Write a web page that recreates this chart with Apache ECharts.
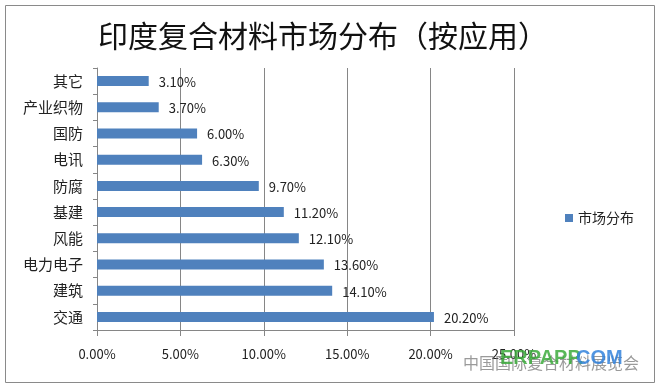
<!DOCTYPE html>
<html>
<head>
<meta charset="utf-8">
<script src="https://cdn.jsdelivr.net/npm/echarts@6/dist/echarts.min.js"></script>
<style>
html,body{margin:0;padding:0;background:#fff;}
#c{width:657px;height:384px;}
</style>
</head>
<body>
<div id="c"></div>
<script>
const titleText = '印度复合材料市场分布（按应用）';
const seriesName = '市场分布';
const categories = ['其它','产业织物','国防','电讯','防腐','基建','风能','电力电子','建筑','交通'];
const values = [3.1, 3.7, 6.0, 6.3, 9.7, 11.2, 12.1, 13.6, 14.1, 20.2];
const axisMin = 0, axisMax = 25, axisStep = 5;
const watermarkCn = '中国国际复合材料展览会';
const watermarkA = 'ERPAPP.';
const watermarkB = 'COM';

const FONT = '"Noto Sans CJK SC", "Noto Sans", sans-serif';
const chart = echarts.init(document.getElementById('c'), null, {renderer: 'canvas'});
chart.setOption({
  backgroundColor: '#ffffff',
  animation: false,
  textStyle: {fontFamily: FONT},
  title: {
    text: titleText,
    left: 93,
    top: 16,
    textStyle: {fontSize: 30, fontWeight: 'normal', color: '#111', fontFamily: FONT}
  },
  legend: {
    data: [seriesName],
    left: 560,
    top: 206,
    icon: 'rect',
    itemWidth: 8,
    itemHeight: 8,
    itemGap: 4,
    textStyle: {fontSize: 14, color: '#222', fontFamily: FONT}
  },
  grid: {left: 97, right: 143, top: 68, bottom: 54, containLabel: false},
  xAxis: {
    type: 'value',
    min: axisMin,
    max: axisMax,
    interval: axisStep,
    axisLine: {show: true, lineStyle: {color: '#868686', width: 1}},
    axisTick: {show: true, inside: false, length: 6, lineStyle: {color: '#868686'}},
    splitLine: {show: true, lineStyle: {color: '#868686', width: 1}},
    axisLabel: {
      margin: 18,
      fontSize: 13,
      color: '#222',
      fontFamily: FONT,
      formatter: v => v.toFixed(2) + '%'
    }
  },
  yAxis: {
    type: 'category',
    data: categories,
    inverse: true,
    axisLine: {show: true, lineStyle: {color: '#868686', width: 1}},
    axisTick: {show: true, inside: false, length: 4, lineStyle: {color: '#868686'}},
    axisLabel: {margin: 14, fontSize: 15, color: '#222', fontFamily: FONT}
  },
  series: [{
    name: seriesName,
    type: 'bar',
    data: values,
    barWidth: 10,
    itemStyle: {color: '#4F81BD'},
    label: {
      show: true,
      position: 'right',
      distance: 10,
      offset: [0, 1],
      fontSize: 13,
      color: '#222',
      fontFamily: FONT,
      formatter: p => p.value.toFixed(2) + '%'
    }
  }],
  graphic: [
    {type: 'rect', left: 3, top: 3, z: 100, silent: true,
     shape: {width: 649, height: 377}, style: {fill: 'none', stroke: '#8a8a8a', lineWidth: 1}},
    {type: 'text', left: 463, top: 355, z: 101, silent: true,
     style: {text: watermarkCn, fill: 'rgba(120,120,120,0.75)', font: '16px "Noto Sans CJK SC", sans-serif'}},
    {type: 'text', left: 500, top: 348, z: 102, silent: true,
     style: {text: watermarkA, fill: 'rgba(60,170,60,0.85)', font: 'bold 20px "Liberation Sans", sans-serif'}},
    {type: 'text', left: 576, top: 348, z: 102, silent: true,
     style: {text: watermarkB, fill: 'rgba(50,130,220,0.85)', font: 'bold 20px "Liberation Sans", sans-serif'}}
  ]
});
</script>
</body>
</html>
